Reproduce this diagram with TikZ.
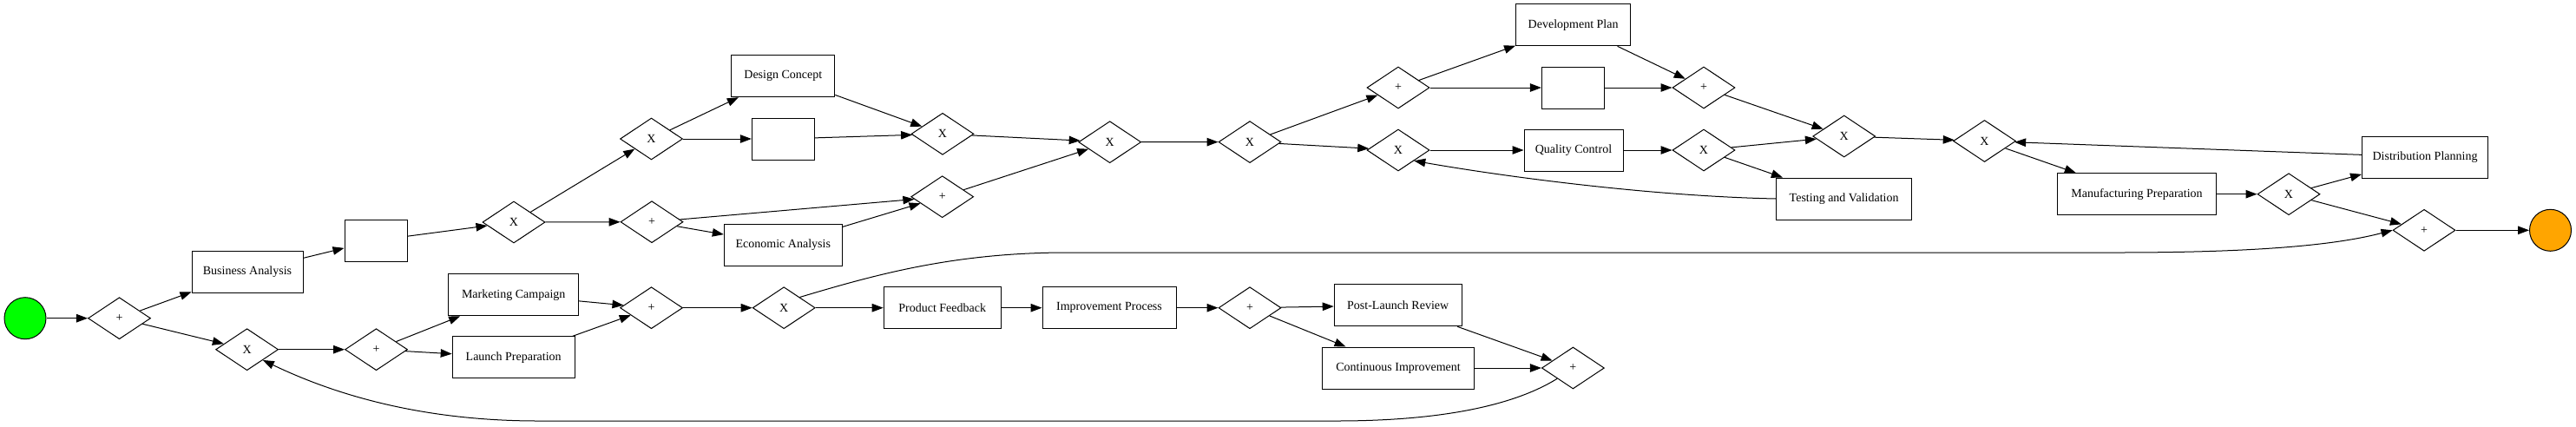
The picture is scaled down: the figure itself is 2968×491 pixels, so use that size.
\documentclass[tikz,border=0pt]{standalone}
\usepackage{fontspec}
\setmainfont{Liberation Serif}
\usetikzlibrary{shapes.geometric,arrows.meta}
\tikzset{
  task/.style={draw=black, line width=1pt, rectangle, minimum height=48pt, inner sep=2pt, font=\fontsize{14}{16}\selectfont, fill=white},
  gw/.style={draw=black, line width=1pt, diamond, minimum width=72pt, minimum height=48pt, inner sep=0pt, font=\fontsize{14}{16}\selectfont},
  evt/.style={draw=black, line width=1pt, circle, minimum size=48pt, inner sep=0pt},
  arr/.style={draw=black, line width=1pt, -{Triangle[length=13pt,width=9.5pt]}}
}
\begin{document}
\begin{tikzpicture}[x=1pt,y=-1pt]
\useasboundingbox (0,0) rectangle (2968,491);
% events
\node[evt, fill={rgb,255:red,0;green,255;blue,0}] (start) at (29,366.7) {};
\node[evt, fill={rgb,255:red,255;green,165;blue,0}] (end) at (2938.5,265.3) {};
% gateways
\node[gw] (g1) at (137.5,366.7) {+};
\node[gw] (xlow) at (284.6,402.7) {X};
\node[gw] (pl) at (433.5,402.7) {+};
\node[gw] (xa) at (592,256) {X};
\node[gw] (pc) at (751,255.7) {+};
\node[gw] (xb) at (750.5,160) {X};
\node[gw] (xm) at (1086,154.3) {X};
\node[gw] (pm) at (1085.7,226.7) {+};
\node[gw] (xn) at (1278.7,163.7) {X};
\node[gw] (xo) at (1440,163.6) {X};
\node[gw] (pp) at (1611,101) {+};
\node[gw] (xq) at (1611,173) {X};
\node[gw] (pr) at (1963,101) {+};
\node[gw] (xs) at (1963,173) {X};
\node[gw] (xt) at (2124.7,157) {X};
\node[gw] (xu) at (2286.5,162.5) {X};
\node[gw] (xv) at (2637,223.7) {X};
\node[gw] (pw) at (2793,265.3) {+};
\node[gw] (pk) at (750.5,354.7) {+};
\node[gw] (xj) at (903.2,354.7) {X};
\node[gw] (pi) at (1440,354.7) {+};
\node[gw] (ph) at (1812.4,424) {+};
% tasks
\node[task, minimum width=128pt] (ba) at (285,313) {Business Analysis};
\node[task, minimum width=72pt] (b1) at (433,277) {};
\node[task, minimum width=150pt] (mc) at (591.7,339.8) {Marketing Campaign};
\node[task, minimum width=141pt] (lp) at (591.7,411.8) {Launch Preparation};
\node[task, minimum width=119pt] (dc) at (902.3,87.7) {Design Concept};
\node[task, minimum width=72pt] (b2) at (902.3,160) {};
\node[task, minimum width=136pt] (ea) at (902.3,282) {Economic Analysis};
\node[task, minimum width=135pt] (pf) at (1085.7,354.7) {Product Feedback};
\node[task, minimum width=154pt] (ip) at (1278,354.7) {Improvement Process};
\node[task, minimum width=147pt] (plr) at (1610.7,351.8) {Post-Launch Review};
\node[task, minimum width=175pt] (ci) at (1611,424) {Continuous Improvement};
\node[task, minimum width=132pt] (dp) at (1812.6,28.8) {Development Plan};
\node[task, minimum width=72pt] (b3) at (1812.4,101) {};
\node[task, minimum width=114pt] (qc) at (1813,173) {Quality Control};
\node[task, minimum width=156pt] (tv) at (2124.6,229) {Testing and Validation};
\node[task, minimum width=183pt] (mp) at (2462,223.7) {Manufacturing Preparation};
\node[task, minimum width=145pt] (dist) at (2794,181) {Distribution Planning};
% edges
\draw[arr] (start) -- (g1);
\draw[arr] (g1) -- (ba);
\draw[arr] (g1) -- (xlow);
\draw[arr] (ba) -- (b1);
\draw[arr] (b1) -- (xa);
\draw[arr] (xa) -- (xb);
\draw[arr] (xa) -- (pc);
\draw[arr] (xb) -- (dc);
\draw[arr] (xb) -- (b2);
\draw[arr] (dc) -- (xm);
\draw[arr] (b2) -- (xm);
\draw[arr] (pc) -- (pm);
\draw[arr] (pc) -- (ea);
\draw[arr] (ea) -- (pm);
\draw[arr] (xm) -- (xn);
\draw[arr] (pm) -- (xn);
\draw[arr] (xn) -- (xo);
\draw[arr] (xo) -- (pp);
\draw[arr] (xo) -- (xq);
\draw[arr] (pp) -- (dp);
\draw[arr] (pp) -- (b3);
\draw[arr] (dp) -- (pr);
\draw[arr] (b3) -- (pr);
\draw[arr] (xq) -- (qc);
\draw[arr] (qc) -- (xs);
\draw[arr] (xs) -- (xt);
\draw[arr] (xs) -- (tv);
\draw[arr] (pr) -- (xt);
\draw[arr] (tv.west) .. controls (1900,226) and (1730,203) .. (xq.south east);
\draw[arr] (xt) -- (xu);
\draw[arr] (xu) -- (mp);
\draw[arr] (mp) -- (xv);
\draw[arr] (xv) -- (dist);
\draw[arr] (xv) -- (pw);
\draw[arr] (dist) -- (xu);
\draw[arr] (pw) -- (end);
\draw[arr] (xlow) -- (pl);
\draw[arr] (pl) -- (mc);
\draw[arr] (pl) -- (lp);
\draw[arr] (mc) -- (pk);
\draw[arr] (lp) -- (pk);
\draw[arr] (pk) -- (xj);
\draw[arr] (xj) -- (pf);
\draw[arr] (xj.north east) .. controls (1010,316) and (1100,291) .. (1230,291) -- (2440,291) .. controls (2620,291) and (2700,280) .. (pw.west);
\draw[arr] (pf) -- (ip);
\draw[arr] (ip) -- (pi);
\draw[arr] (pi) -- (plr);
\draw[arr] (pi) -- (ci);
\draw[arr] (plr) -- (ph);
\draw[arr] (ci) -- (ph);
\draw[arr] (ph.south west) .. controls (1740,470) and (1650,485) .. (1540,485) -- (620,485) .. controls (480,485) and (380,452) .. (xlow.south east);
\end{tikzpicture}
\end{document}
